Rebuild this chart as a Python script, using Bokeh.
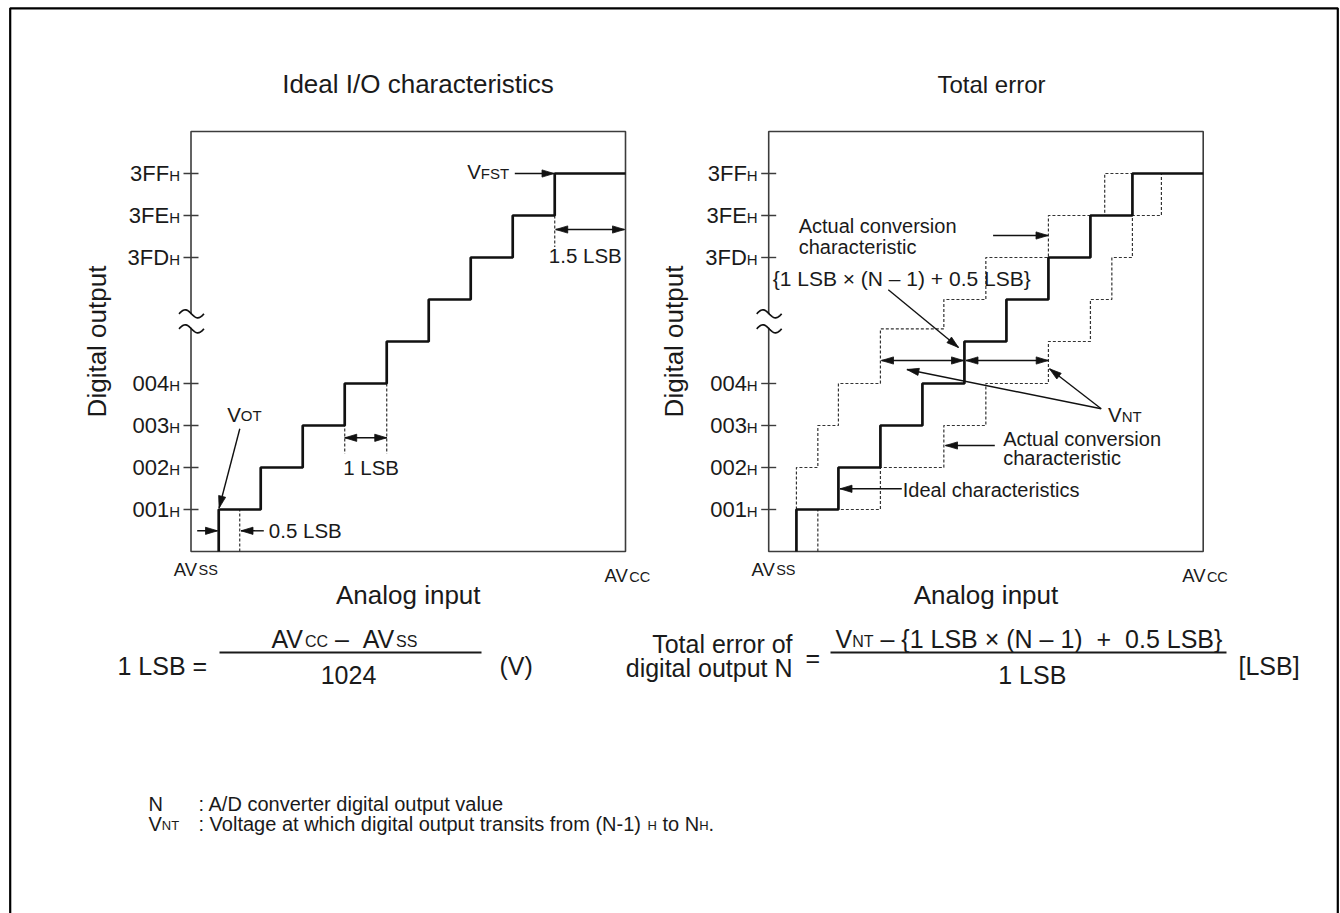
import numpy as np
from bokeh.plotting import figure
from bokeh.models import Range1d, ColumnDataSource
from bokeh.embed import file_html
from bokeh.resources import INLINE
from bokeh.core.properties import value

# ---------------- data ----------------
code_levels = [1, 2, 3, 4, 7, 8, 9]
code_labels = ["001", "002", "003", "004", "3FD", "3FE", "3FF"]
ideal_trans = [0.66, 1.66, 2.66, 3.66, 4.66, 5.66, 6.66, 7.66, 8.66]
ideal_levels = [1, 2, 3, 4, 5, 6, 7, 8, 9]
early_trans = [0.66, 1.17, 1.66, 2.66, 4.17, 5.17, 6.66, 8.0]
early_levels = [2, 3, 4, 5.3, 6, 7, 8, 9]
late_trans = [1.17, 2.66, 4.17, 5.17, 6.66, 7.66, 8.17, 8.66, 9.35]
late_levels = [1, 2, 3, 4, 5, 6, 7, 8, 9]
AVCC_LSB = 10.345
TOP_LEVEL = 10
BREAK_LEVEL = 5.48

FONT = "Liberation Sans"
INK = "#1a1a1a"
MID = 0.35  # baseline -> middle factor

AW = {' ': 278, '!': 278, '(': 333, ')': 333, '+': 584, ',': 278, '-': 333, '.': 278,
      '/': 278, ':': 278, '=': 584, '[': 278, ']': 278, '{': 334, '}': 334,
      '\u00d7': 584, '\u2013': 556}
for c in "0123456789":
    AW[c] = 556
AW.update(dict(A=667, B=667, C=722, D=722, E=667, F=611, G=778, H=722, I=278, J=500,
               K=667, L=556, M=833, N=722, O=778, P=667, Q=778, R=722, S=667, T=611,
               U=722, V=667, W=944, X=667, Y=667, Z=611))
AW.update(dict(a=556, b=556, c=500, d=556, e=556, f=278, g=556, h=556, i=222, j=222,
               k=500, l=222, m=833, n=556, o=556, p=556, q=556, r=333, s=500, t=278,
               u=556, v=500, w=722, x=500, y=500, z=500))


def tw(s, size):
    return sum(AW.get(c, 556) for c in s) * size / 1000.0


W, H = 1340, 913
p = figure(width=W, height=H, x_range=Range1d(0, W), y_range=Range1d(H, 0),
           output_backend="svg", toolbar_location=None, min_border=0,
           x_axis_location=None, y_axis_location=None)
p.grid.visible = False
p.outline_line_color = None
p.background_fill_color = "white"
p.border_fill_color = "white"

# outer frame
p.line(x=[9.7, 9.7, 1337.3, 1337.3], y=[930, 7.8, 7.8, 930], line_color="black", line_width=2.2)

PW = 434.5
Y0, Y1 = 551.0, 131.0
PANELS = [190.5, 768.2]
LSB_PX = PW / AVCC_LSB


def px(x0, v):
    return x0 + v * LSB_PX


def py(l):
    return Y0 + (Y1 - Y0) * l / TOP_LEVEL


def stair(trans, levs, start, end_x=None):
    xs, ys = [], []
    prev = start
    for t, l in zip(trans, levs):
        xs += [t, t]
        ys += [prev, l]
        prev = l
    if end_x is not None:
        xs.append(end_x)
        ys.append(prev)
    return xs, ys


texts = []


def put(x, base, s, size, align="left", angle=0.0):
    y = base - MID * size if angle == 0 else base
    texts.append(dict(x=x, y=y, text=s, size=f"{size}px", align=align, angle=angle))


def putc(x, yc, s, size, align="left"):
    put(x, yc + MID * size, s, size, align)


def mixed(x, base, parts, align="left"):
    total = sum(tw(s, sz) for s, sz in parts)
    if align == "center":
        x -= total / 2
    elif align == "right":
        x -= total
    for s, sz in parts:
        if s.strip():
            lead = len(s) - len(s.lstrip(" "))
            put(x + tw(" " * lead, sz), base, s.strip(" "), sz)
        x += tw(s, sz)


seg = dict(x0=[], y0=[], x1=[], y1=[])
heads = dict(xs=[], ys=[])


def head(xa, ya, xb, yb, L=12.0, Wd=3.6):
    d = np.array([xb - xa, yb - ya], float)
    d /= np.hypot(*d)
    n = np.array([-d[1], d[0]])
    tip = np.array([xb, yb])
    base = tip - d * L
    a = base + n * Wd
    b = base - n * Wd
    heads["xs"].append([tip[0], a[0], b[0]])
    heads["ys"].append([tip[1], a[1], b[1]])


def arrow(xa, ya, xb, yb, both=False):
    seg["x0"].append(xa); seg["y0"].append(ya); seg["x1"].append(xb); seg["y1"].append(yb)
    head(xa, ya, xb, yb)
    if both:
        head(xb, yb, xa, ya)


TS, TH = 22, 15  # tick label sizes
for x0 in PANELS:
    sub = p.subplot(x_source=Range1d(0, AVCC_LSB), y_source=Range1d(0, TOP_LEVEL),
                    x_target=Range1d(x0, x0 + PW), y_target=Range1d(Y0, Y1))
    # frame
    sub.quad(left=[0], right=[AVCC_LSB], bottom=[0], top=[TOP_LEVEL], fill_color=None,
             line_color="#3c3c3c", line_width=1.6)
    # ticks
    tk = 7.5 / LSB_PX
    sub.segment(x0=[-tk] * len(code_levels), x1=[tk] * len(code_levels), y0=code_levels,
                y1=code_levels, line_color="#3c3c3c", line_width=1.4)
    src = ColumnDataSource(dict(x=[0] * len(code_levels), y=code_levels, t=code_labels,
                                h=["H"] * len(code_levels)))
    sub.text(x="x", y="y", text="t", source=src, x_offset=-11 - tw("H", TH), y_offset=0,
             text_align="right", text_baseline="middle", text_font=value(FONT),
             text_font_size=f"{TS}px", text_color=INK)
    sub.text(x="x", y="y", text="h", source=src, x_offset=-11, y_offset=MID * (TS - TH),
             text_align="right", text_baseline="middle", text_font=value(FONT),
             text_font_size=f"{TH}px", text_color=INK)
    # AVss / AVcc
    sub.text(x=[0, 0], y=[0, 0], text=["AV", "SS"], x_offset=[-17.2, -17.2 + tw("AV", 18.5)],
             y_offset=[24 - MID * 18.5, 24 - MID * 14.5], text_align="left",
             text_baseline="middle", text_font=value(FONT),
             text_font_size=["18.5px", "14.5px"], text_color=INK)
    sub.text(x=[AVCC_LSB] * 2, y=[0, 0], text=["AV", "CC"],
             x_offset=[-21, -21 + tw("AV", 18.5)],
             y_offset=[30.7 - MID * 18.5, 30.7 - MID * 14.5],
             text_align="left", text_baseline="middle", text_font=value(FONT),
             text_font_size=["18.5px", "14.5px"], text_color=INK)
    # ideal staircase
    xs, ys = stair(ideal_trans, ideal_levels, 0, AVCC_LSB)
    if x0 == PANELS[1]:
        ex, ey = stair(early_trans, early_levels, 1, ideal_trans[-1])
        lx, ly = stair(late_trans, late_levels, 0)
        sub.line(x=ex, y=ey, line_color="#333333", line_width=1.2, line_dash="3 2")
        sub.line(x=lx, y=ly, line_color="#333333", line_width=1.2, line_dash="3 2")
    else:
        gx0 = [ideal_trans[0] + 0.5, ideal_trans[3], ideal_trans[4], ideal_trans[8]]
        gy0 = [0, 4, 4, 8]
        gy1 = [1, 2.33, 2.33, 7.25]
        sub.segment(x0=gx0, x1=gx0, y0=gy0, y1=gy1, line_color="#333333", line_width=1.2,
                    line_dash="3 2")
    sub.line(x=xs, y=ys, line_color="#111111", line_width=2.7)

    # axis break symbol
    yc = py(BREAK_LEVEL)
    p.quad(left=[x0 - 3], right=[x0 + 3], top=[yc - 7], bottom=[yc + 7], fill_color="white",
           line_color=None)
    t = np.linspace(0, 1, 30)
    for dy in (-7.5, 7.5):
        p.line(x=x0 - 12 + 25 * t, y=yc + dy - 4 * np.sin(2 * np.pi * t),
               line_color="#111111", line_width=1.7)

    # axis titles
    put(x0 - 94.5, 341, "Digital output", 26, align="center", angle=np.pi / 2)
    put(x0 + PW / 2, 603.3, "Analog input", 26, align="center")

put(417.5, 92.3, "Ideal I/O characteristics", 26, align="center")
put(991, 92.3, "Total error", 24, align="center")

# ---- left panel annotations ----
AS, SS = 20.5, 15
L0 = PANELS[0]
mixed(226.7, 420.7, [("V", AS), ("OT", SS)])
arrow(239.3, 428.3, 218.6, 507.5)
put(268.3, 537.3, "0.5 LSB", AS)
arrow(196.7, 530.3, 217.0, 530.3)
arrow(263.3, 530.3, 240.5, 530.3)
put(342.7, 474.3, "1 LSB", AS)
arrow(px(L0, ideal_trans[3]), 437.3, px(L0, ideal_trans[4]), 437.3, both=True)
mixed(466.7, 178.2, [("V", AS), ("FST", SS)])
arrow(514.3, 173.0, 553.5, 173.0)
put(548.3, 262.0, "1.5 LSB", AS)
arrow(px(L0, ideal_trans[8]) + 1, 229.0, px(L0, AVCC_LSB) - 1, 229.0, both=True)

# ---- right panel annotations ----
RS = 20
put(798.2, 232.5, "Actual conversion", RS)
put(798.2, 253.0, "characteristic", RS)
arrow(992.6, 235.0, 1047.5, 235.0)
put(772.2, 285.0, "{1 LSB \u00d7 (N \u2013 1) + 0.5 LSB}", 21)
arrow(887.8, 289.3, 958.0, 347.0)
arrow(881.0, 360.0, 963.0, 360.0, both=True)
arrow(965.5, 360.0, 1047.7, 360.0, both=True)
mixed(1107.5, 421.0, [("V", AS), ("NT", SS)])
arrow(1100.7, 408.3, 906.4, 369.0)
arrow(1100.7, 408.3, 1049.0, 368.3)
put(1002.7, 445.0, "Actual conversion", RS)
put(1002.7, 464.0, "characteristic", RS)
arrow(994.3, 445.0, 945.0, 445.0)
put(902.3, 496.0, "Ideal characteristics", RS)
arrow(901.3, 488.3, 839.5, 488.3)

# ---- formulas ----
FS, FSS = 25, 16
putc(117, 665, "1 LSB =", FS)
mixed(344, 638 + MID * FS,
      [("AV", FS), ("CC", FSS), (" \u2013 ", FS), (" ", FS), ("AV", FS), ("SS", FSS)],
      align="center")
p.segment(x0=[219, 830], x1=[481, 1226], y0=[652, 652], y1=[652, 652], line_color=INK,
          line_width=2)
putc(348, 674, "1024", FS, align="center")
putc(499, 665, "(V)", FS)
putc(792, 643, "Total error of", FS, align="right")
putc(792, 667, "digital output N", FS, align="right")
putc(805, 657, "=", FS)
mixed(835, 638 + MID * FS,
      [("V", FS), ("NT", FSS), (" \u2013 {1 LSB \u00d7 (N \u2013 1)", FS), (" ", FS),
       (" + ", FS), (" ", FS), ("0.5 LSB}", FS)])
putc(1031.8, 674, "1 LSB", FS, align="center")
putc(1238, 665, "[LSB]", FS)

# ---- notes ----
NS, NSS = 20, 13
put(148, 810, "N", NS)
put(198, 810, ": A/D converter digital output value", NS)
mixed(148, 830, [("V", NS), ("NT", NSS)])
mixed(198, 830, [(": Voltage at which digital output transits from (N-1) ", NS), ("H", NSS),
                 (" to N", NS), ("H", NSS), (".", NS)])

p.segment(x0="x0", y0="y0", x1="x1", y1="y1", source=ColumnDataSource(seg),
          line_color="#111111", line_width=1.4)
p.patches(xs="xs", ys="ys", source=ColumnDataSource(heads), fill_color="#111111",
          line_color="#111111", line_width=0.8)

for al in ("left", "center", "right"):
    for ang in sorted(set(d["angle"] for d in texts)):
        sel = [d for d in texts if d["align"] == al and d["angle"] == ang]
        if not sel:
            continue
        src = ColumnDataSource(dict(x=[d["x"] for d in sel], y=[d["y"] for d in sel],
                                    text=[d["text"] for d in sel],
                                    size=[d["size"] for d in sel]))
        p.text(x="x", y="y", text="text", source=src, text_align=al, angle=ang,
               text_baseline="middle", text_font=value(FONT), text_font_size="size",
               text_color=INK)

open("out.html", "w").write(file_html(p, INLINE))
